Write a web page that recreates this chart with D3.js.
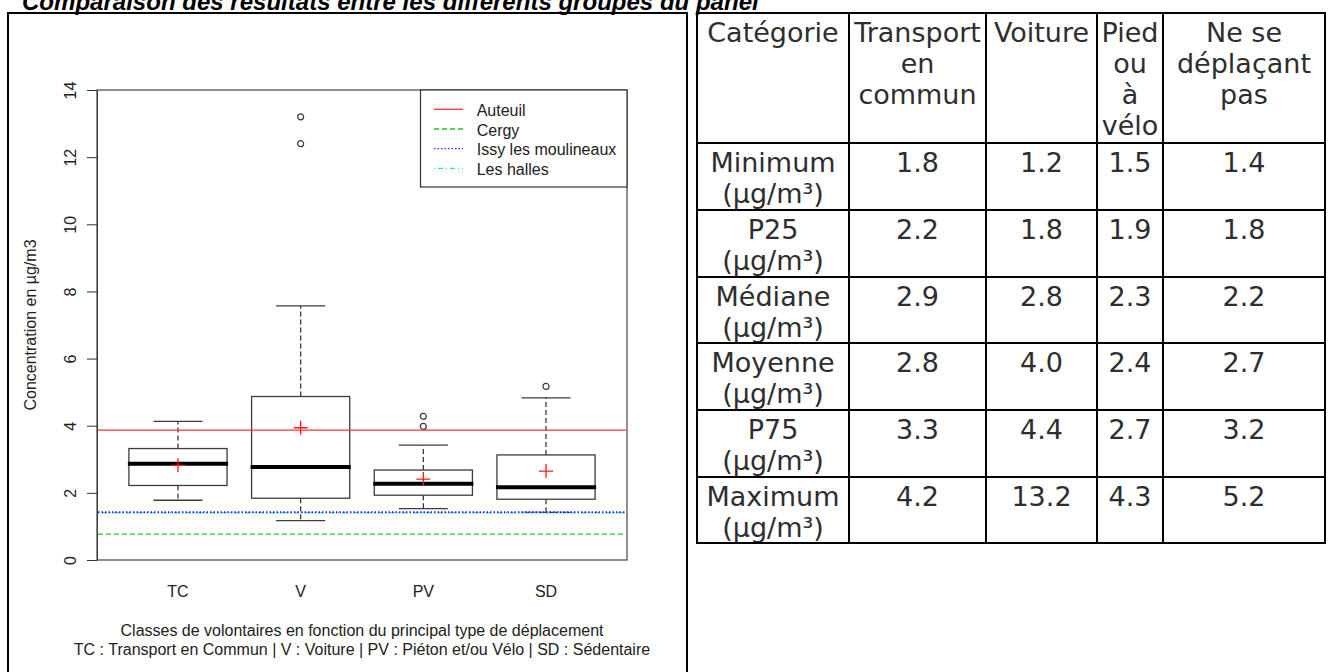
<!DOCTYPE html>
<html>
<head>
    <meta charset="utf-8">
    <title>Comparaison des résultats entre les différents groupes du panel</title>
    <script src="https://d3js.org/d3.v7.min.js"></script>
    <style>
        body { margin: 0; background: #fff; }
        .chart text { font-family: "Liberation Sans", Arial, sans-serif; font-size: 16px; fill: #222; }
        .tab text { font-family: "Century Gothic", "DejaVu Sans", sans-serif; font-size: 27px; fill: #2e2e2e; }
    </style>
</head>
<body>
<script>
    // boxplot stats
    var groups = ["TC", "V", "PV", "SD"];
    var whiskerLow  = [1.78, 1.17, 1.53, 1.42];
    var q1          = [2.22, 1.84, 1.93, 1.81];
    var median      = [2.87, 2.77, 2.27, 2.17];
    var q3          = [3.32, 4.87, 2.68, 3.13];
    var whiskerHigh = [4.13, 7.57, 3.42, 4.83];
    var means       = [2.82, 3.94, 2.41, 2.65];
    var outliers    = [[], [12.4, 13.2], [3.98, 4.28], [5.17]];
    var yTicks = [0, 2, 4, 6, 8, 10, 12, 14];

    // reference sites (horizontal lines)
    var sites = ["Auteuil", "Cergy", "Issy les moulineaux", "Les halles"];
    var siteValues = [3.87, 0.77, 1.42, 1.41];
    var siteColors = ["#ff3535", "#1fcc1f", "#2b2bff", "#22e6e6"];
    var siteDash = [null, "5,3", "1.5,2", "1,3,5,3"];
    var drawOrder = [0, 1, 3, 2];   // blue dotted ends up over the cyan one

    // table
    var tableHeader = [["Catégorie"], ["Transport", "en", "commun"], ["Voiture"], ["Pied", "ou", "à", "vélo"], ["Ne se", "déplaçant", "pas"]];
    var rowLabels = ["Minimum", "P25", "Médiane", "Moyenne", "P75", "Maximum"];
    var tableTC = ["1.8", "2.2", "2.9", "2.8", "3.3", "4.2"];
    var tableV  = ["1.2", "1.8", "2.8", "4.0", "4.4", "13.2"];
    var tablePV = ["1.5", "1.9", "2.3", "2.4", "2.7", "4.3"];
    var tableSD = ["1.4", "1.8", "2.2", "2.7", "3.2", "5.2"];

    var plot = {left: 97, right: 627, top: 90, bottom: 560};

    var svg = d3.select("body").append("svg")
        .attr("width", 1330)
        .attr("height", 672);

    // title (cut at the top of the page, as in the source document)
    var title = svg.append("text")
        .attr("x", 22)
        .attr("y", 10)
        .style("font-family", "Liberation Sans, Arial, sans-serif")
        .style("font-weight", "bold")
        .style("font-style", "italic")
        .style("font-size", "20px")
        .text("Comparaison des résultats entre les différents groupes du panel");
    var tl = title.node().getComputedTextLength();
    title.style("font-size", (20 * 737 / tl) + "px");

    // page frame
    svg.append("path")
        .attr("d", "M8,672V13H687V672")
        .attr("fill", "none")
        .attr("stroke", "#000")
        .attr("stroke-width", 2);

    var chart = svg.append("g").attr("class", "chart");

    var x = d3.scaleLinear().domain([0.34, 4.66]).range([plot.left, plot.right]);
    var y = d3.scaleLinear().domain([0, 14]).range([plot.bottom, plot.top]);

    var yAxis = d3.axisLeft(y).tickValues(yTicks).tickSize(10).tickSizeOuter(0);
    var yAxisGroup = chart.append("g")
        .attr("transform", "translate(" + plot.left + ",0)")
        .call(yAxis);
    yAxisGroup.attr("font-family", null).attr("font-size", null);
    yAxisGroup.selectAll("line").attr("stroke", "#333");
    yAxisGroup.select(".domain").attr("stroke", "#333");
    yAxisGroup.selectAll("text")
        .attr("x", 0)
        .attr("dy", null)
        .attr("transform", "translate(-21,0) rotate(-90)")
        .attr("text-anchor", "middle");

    chart.append("text")
        .attr("transform", "translate(36," + ((plot.top + plot.bottom) / 2) + ") rotate(-90)")
        .attr("text-anchor", "middle")
        .text("Concentration en µg/m3");

    chart.append("rect")
        .attr("x", plot.left)
        .attr("y", plot.top)
        .attr("width", plot.right - plot.left)
        .attr("height", plot.bottom - plot.top)
        .attr("fill", "none")
        .attr("stroke", "#444")
        .attr("stroke-width", 1.2);

    var boxes = groups.map(function(g, i) {
        return {name: g, pos: i + 1, lo: whiskerLow[i], q1: q1[i], med: median[i], q3: q3[i],
                hi: whiskerHigh[i], mean: means[i], out: outliers[i]};
    });

    var boxW = 0.8 * (x(2) - x(1));
    var capW = boxW / 2;
    var grey = "#3c3c3c";

    var bg = chart.selectAll(".box").data(boxes).enter()
        .append("g")
        .attr("class", "box")
        .attr("transform", function(d) { return "translate(" + x(d.pos) + ",0)"; });

    // whiskers
    bg.append("line")
        .attr("y1", function(d) { return y(d.q3); })
        .attr("y2", function(d) { return y(d.hi); })
        .attr("stroke", grey).attr("stroke-width", 1.3).attr("stroke-dasharray", "5,3");
    bg.append("line")
        .attr("y1", function(d) { return y(d.q1); })
        .attr("y2", function(d) { return y(d.lo); })
        .attr("stroke", grey).attr("stroke-width", 1.3).attr("stroke-dasharray", "5,3");
    bg.append("line")
        .attr("x1", -capW / 2).attr("x2", capW / 2)
        .attr("y1", function(d) { return y(d.hi); })
        .attr("y2", function(d) { return y(d.hi); })
        .attr("stroke", grey).attr("stroke-width", 1.3);
    bg.append("line")
        .attr("x1", -capW / 2).attr("x2", capW / 2)
        .attr("y1", function(d) { return y(d.lo); })
        .attr("y2", function(d) { return y(d.lo); })
        .attr("stroke", grey).attr("stroke-width", 1.3);

    bg.append("rect")
        .attr("x", -boxW / 2)
        .attr("width", boxW)
        .attr("y", function(d) { return y(d.q3); })
        .attr("height", function(d) { return y(d.q1) - y(d.q3); })
        .attr("fill", "none")
        .attr("stroke", grey)
        .attr("stroke-width", 1.3);

    bg.append("line")
        .attr("x1", -boxW / 2 - 1).attr("x2", boxW / 2 + 1)
        .attr("y1", function(d) { return y(d.med); })
        .attr("y2", function(d) { return y(d.med); })
        .attr("stroke", "#000")
        .attr("stroke-width", 4);

    bg.selectAll("circle")
        .data(function(d) { return d.out; })
        .enter().append("circle")
        .attr("cx", 0)
        .attr("cy", function(v) { return y(v); })
        .attr("r", 3)
        .attr("fill", "none")
        .attr("stroke", grey)
        .attr("stroke-width", 1.2);

    // site reference lines
    chart.selectAll(".site").data(drawOrder).enter()
        .append("line")
        .attr("class", "site")
        .attr("x1", plot.left + 1)
        .attr("x2", plot.right - 1)
        .attr("y1", function(i) { return y(siteValues[i]); })
        .attr("y2", function(i) { return y(siteValues[i]); })
        .attr("stroke", function(i) { return siteColors[i]; })
        .attr("stroke-width", function(i) { return i === 2 ? 2 : 1.4; })
        .attr("stroke-dasharray", function(i) { return siteDash[i]; });

    // means
    bg.append("path")
        .attr("d", function(d) { var c = y(d.mean); return "M-7,"  + c + "H7M0," + (c - 7) + "V" + (c + 7); })
        .attr("stroke", "#ff1a1a")
        .attr("stroke-width", 1.3)
        .attr("fill", "none");

    chart.selectAll(".xlab").data(groups).enter()
        .append("text")
        .attr("class", "xlab")
        .attr("x", function(d, i) { return x(i + 1); })
        .attr("y", 597)
        .attr("text-anchor", "middle")
        .text(function(d) { return d; });

    var midX = (plot.left + plot.right) / 2;
    chart.append("text").attr("x", midX).attr("y", 636).attr("text-anchor", "middle")
        .text("Classes de volontaires en fonction du principal type de déplacement");
    chart.append("text").attr("x", midX).attr("y", 655).attr("text-anchor", "middle")
        .text("TC : Transport en Commun | V : Voiture | PV : Piéton et/ou Vélo | SD : Sédentaire");

    // legend
    var lg = chart.append("g");
    lg.append("rect")
        .attr("x", 420.5).attr("y", 90)
        .attr("width", plot.right - 420.5).attr("height", 97)
        .attr("fill", "#fff").attr("stroke", "#333").attr("stroke-width", 1.2);
    var le = lg.selectAll(".le").data(sites).enter()
        .append("g")
        .attr("transform", function(d, i) { return "translate(0," + (109.3 + i * 19.7) + ")"; });
    le.append("line")
        .attr("x1", 434).attr("x2", 463)
        .attr("stroke", function(d, i) { return siteColors[i]; })
        .attr("stroke-width", 1.3)
        .attr("stroke-dasharray", function(d, i) { return siteDash[i]; });
    le.append("text")
        .attr("x", 476.7).attr("y", 6.5)
        .text(function(d) { return d; });

    // table on the right
    var colEdges = [697, 849, 986, 1097, 1163, 1325];
    var rowEdges = [13, 143, 210, 277, 343, 410, 477, 543];
    var firstLine = 28.5, lineStep = 31.3;
    var tab = svg.append("g").attr("class", "tab");

    var columns = [tableTC, tableV, tablePV, tableSD];
    var cells = [];
    tableHeader.forEach(function(lines, c) {
        cells.push({c: c, r: 0, lines: lines});
    });
    rowLabels.forEach(function(lab, r) {
        cells.push({c: 0, r: r + 1, lines: [lab, "(µg/m³)"]});
        columns.forEach(function(col, c) {
            cells.push({c: c + 1, r: r + 1, lines: [col[r]]});
        });
    });

    function cellMid(d) { return (colEdges[d.c] + colEdges[d.c + 1]) / 2; }

    tab.selectAll(".cell").data(cells).enter()
        .append("text")
        .attr("class", "cell")
        .attr("text-anchor", "middle")
        .attr("x", cellMid)
        .attr("y", function(d) { return rowEdges[d.r] + firstLine; })
        .each(function(d) {
            d3.select(this).selectAll("tspan")
                .data(d.lines)
                .enter().append("tspan")
                .attr("x", cellMid(d))
                .attr("dy", function(t, i) { return i === 0 ? 0 : lineStep; })
                .text(function(t) { return t; });
        });

    tab.selectAll(".vl").data(colEdges).enter()
        .append("line")
        .attr("x1", function(d) { return d; }).attr("x2", function(d) { return d; })
        .attr("y1", rowEdges[0] - 1).attr("y2", rowEdges[rowEdges.length - 1] + 1)
        .attr("stroke", "#000").attr("stroke-width", 2);
    tab.selectAll(".hl").data(rowEdges).enter()
        .append("line")
        .attr("x1", colEdges[0] - 1).attr("x2", colEdges[colEdges.length - 1] + 1)
        .attr("y1", function(d) { return d; }).attr("y2", function(d) { return d; })
        .attr("stroke", "#000").attr("stroke-width", 2);
</script>
</body>
</html>
